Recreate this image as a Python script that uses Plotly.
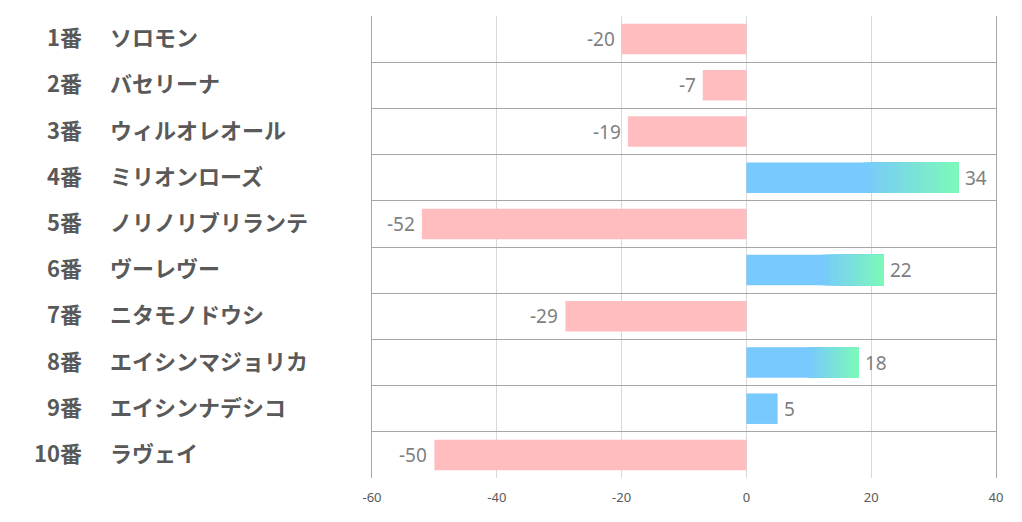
import plotly.graph_objects as go

# ── Data ────────────────────────────────────────────
numbers = ["1番", "2番", "3番", "4番", "5番", "6番", "7番", "8番", "9番", "10番"]
horses = ["ソロモン", "バセリーナ", "ウィルオレオール", "ミリオンローズ", "ノリノリブリランテ",
          "ヴーレヴー", "ニタモノドウシ", "エイシンマジョリカ", "エイシンナデシコ", "ラヴェイ"]
values = [-20, -7, -19, 34, -52, 22, -29, 18, 5, -50]
x_ticks = [-60, -40, -20, 0, 20, 40]
x_tick_labels = ["-60", "-40", "-20", "0", "20", "40"]

# ── Style ───────────────────────────────────────────
PINK = (255, 189, 191)
BLUE = (120, 201, 253)
GREEN = (124, 249, 184)
GRAD_FROM = 0.55   # share of a positive bar that stays flat blue
GRAD_MIN = 10      # short bars stay plain blue
N_STEPS = 30
BAR_W = 0.66
TEXT_FONT = "Noto Sans CJK JP"

def rgb(c):
    return f"rgb({c[0]},{c[1]},{c[2]})"

def mix(a, b, t):
    return tuple(round(a[i] + (b[i] - a[i]) * t) for i in range(3))

fig = go.Figure()

# negative bars
neg = [(h, v) for h, v in zip(horses, values) if v < 0]
fig.add_trace(go.Bar(
    y=[h for h, _ in neg], x=[v for _, v in neg], orientation="h",
    marker=dict(color=rgb(PINK), line_width=0), width=BAR_W, hoverinfo="skip",
))

# positive bars: flat blue part, then a blue→green gradient made of steps
# (each step runs to the bar end, later steps paint over earlier ones: no seams)
for h, v in zip(horses, values):
    if v <= 0:
        continue
    flat = v * GRAD_FROM if v >= GRAD_MIN else v
    fig.add_trace(go.Bar(
        y=[h], x=[v], base=[0], orientation="h",
        marker=dict(color=rgb(BLUE), line_width=0), width=BAR_W, hoverinfo="skip",
    ))
    if v >= GRAD_MIN:
        step = (v - flat) / N_STEPS
        for i in range(N_STEPS):
            start = flat + step * i
            fig.add_trace(go.Bar(
                y=[h], x=[v - start], base=[start], orientation="h",
                marker=dict(color=rgb(mix(BLUE, GREEN, (i + 0.5) / N_STEPS)), line_width=0),
                width=BAR_W, hoverinfo="skip",
            ))

# value labels
for h, v in zip(horses, values):
    fig.add_annotation(
        x=v, y=h, xref="x", yref="y", text=str(v), showarrow=False,
        xanchor="left" if v > 0 else "right", xshift=4 if v > 0 else -5,
        font=dict(family="Noto Sans", size=19, color="#7f7f7f"),
    )

# row labels: number right-aligned, name left-aligned
for n, h in zip(numbers, horses):
    fig.add_annotation(x=-0.4615, y=h, xref="paper", yref="y", text=n, showarrow=False,
                       xanchor="right", yshift=3,
                       font=dict(family=TEXT_FONT, size=22, color="#595959", weight="bold"))
    fig.add_annotation(x=-0.423, y=h, xref="paper", yref="y", text=h, showarrow=False,
                       xanchor="left", yshift=3,
                       font=dict(family=TEXT_FONT, size=22, color="#595959", weight="bold"))

# the page body has an 8px margin, so the figure is 8px smaller and margins shifted
fig.update_layout(
    width=1014, height=514,
    margin=dict(l=364, r=26, t=8, b=44, autoexpand=False),
    barmode="overlay", showlegend=False,
    plot_bgcolor="white", paper_bgcolor="white",
)
fig.update_xaxes(
    range=[-60, 40], tickvals=x_ticks, ticktext=x_tick_labels,
    showgrid=True, gridcolor="#d9d9d9", gridwidth=1,
    zeroline=False, showline=False, ticklabelstandoff=10,
    tickfont=dict(family="Noto Sans", size=13, color="#595959"),
)
fig.update_yaxes(
    categoryorder="array", categoryarray=horses, autorange="reversed",
    tickson="boundaries", showgrid=True, gridcolor="#a6a6a6", gridwidth=1,
    showticklabels=False, ticks="", showline=True, mirror=True, linecolor="#a6a6a6",
)

fig.write_html("out.html")
